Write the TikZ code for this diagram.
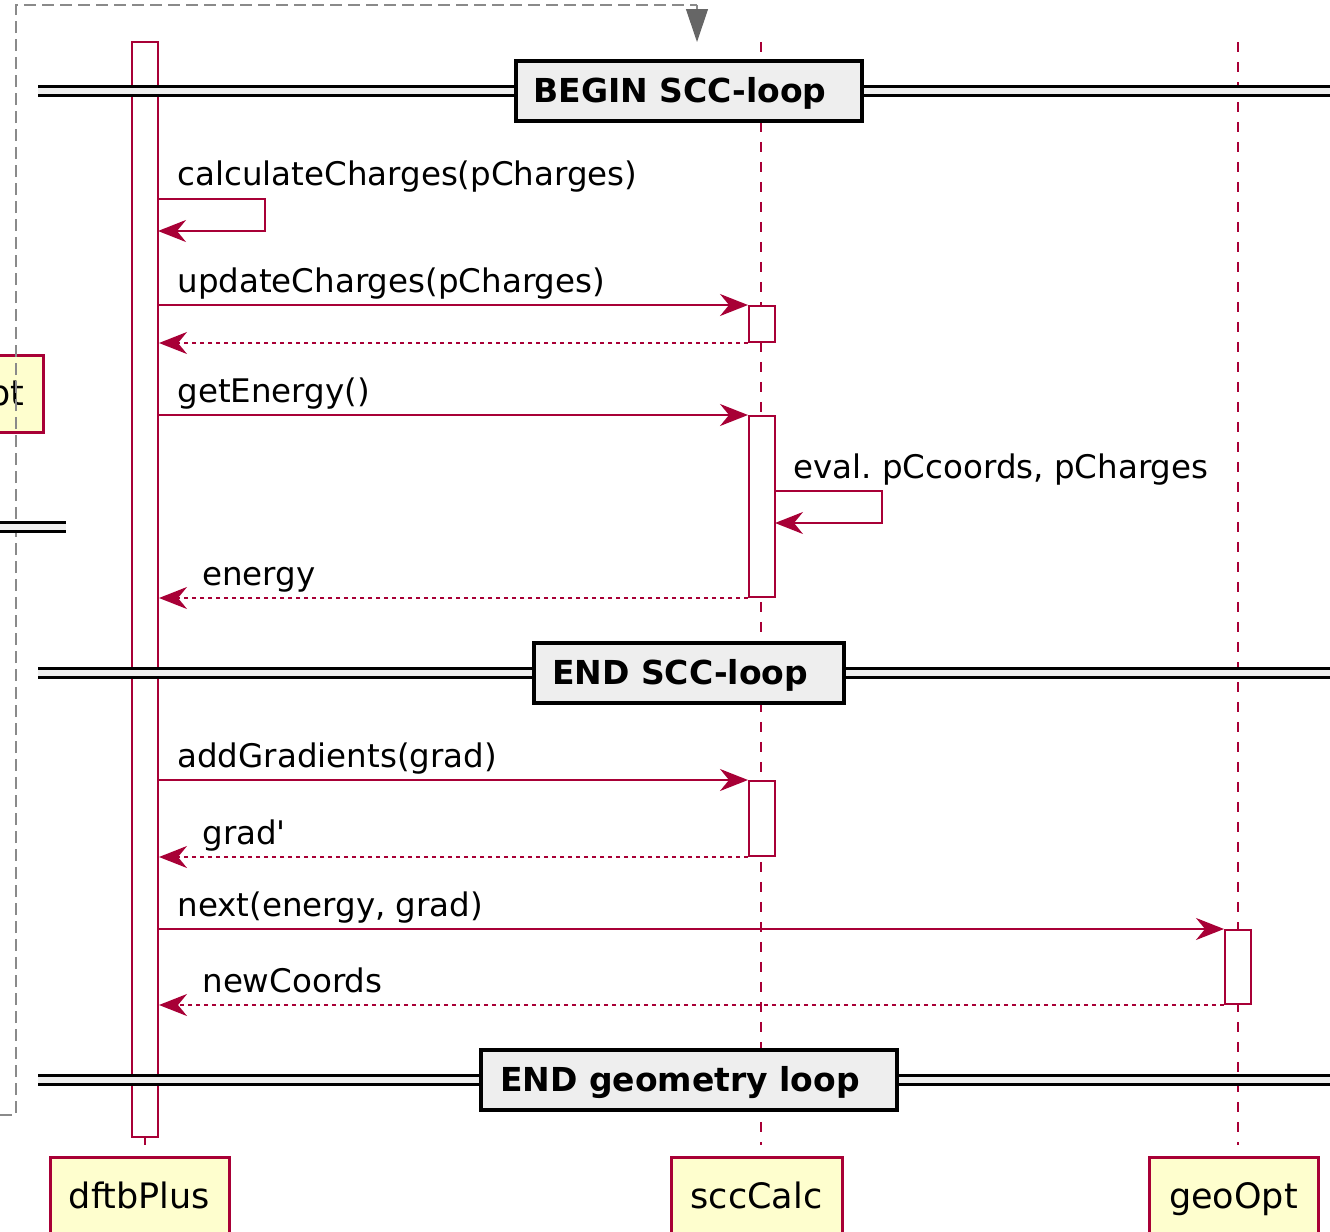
\documentclass[tikz,border=0pt]{standalone}
\usepackage{fontspec}
\setmainfont{DejaVu Sans}
\usetikzlibrary{arrows.meta}
\definecolor{umlred}{HTML}{A80036}
\definecolor{umlyellow}{HTML}{FEFECE}
\definecolor{divgray}{HTML}{EEEEEE}
\definecolor{framegray}{HTML}{8A8A8A}
\frenchspacing
\tikzset{
    lifeline/.style={umlred, line width=1pt, dash pattern=on 5pt off 5pt},
    actbar/.style={draw=umlred, fill=white, line width=1pt},
    call/.style={umlred, line width=1pt, -{Stealth[length=14pt, width=11pt, inset=4.5pt]}},
    reply/.style={call, dash pattern=on 2pt off 2pt},
    msglabel/.style={anchor=base west, inner sep=0pt, font=\fontsize{16.25}{19}\selectfont},
    partbox/.style={draw=umlred, fill=umlyellow, line width=1.5pt, inner sep=0pt, text height=15pt, text depth=3.5pt, font=\fontsize{17.5}{21}\selectfont},
    divbox/.style={draw=black, fill=divgray, line width=1.75pt, inner sep=0pt, minimum height=30pt, text height=13pt, text depth=2pt, font=\bfseries\fontsize{16.5}{20}\selectfont},
    divline/.style={draw=black, line width=1.1pt, fill=divgray},
    frame/.style={framegray, line width=0.6pt, dash pattern=on 6pt off 3pt}
}
\begin{document}
\begin{tikzpicture}[x=0.5pt, y=-0.5pt]
    \useasboundingbox (0,0) rectangle (1330,1232);
    \clip (0,0) rectangle (1330,1232);
    % lifelines
    \foreach \n/\x in {scc/761,geo/1238}{
        \coordinate (\n top) at (\x,42);
        \coordinate (\n bot) at (\x,1145);
        \draw[lifeline] (\n top) -- (\n bot);
    }
    \coordinate (dftbbot) at (145,1145);
    \node[actbar, minimum width=13pt, minimum height=547.5pt, inner sep=0pt] (dbar) at (145,589.5) {};
    \draw[umlred, line width=1pt] (dbar.south) -- (dftbbot);
    % participants
    \foreach \x/\w/\n/\l in {139.5/89.5/dftb/dftbPlus,756.5/85.5/scc/sccCalc,1233.5/84.5/geo/geoOpt}{
        \node[partbox, minimum width=\w pt, minimum height=39.5pt] (\n box) at (\x,1196.5) {\l};
    }
    \node[partbox, minimum width=60pt, minimum height=38.5pt, anchor=east] (outerbox) at (44.5,393.5) {};
    \node[anchor=base east, inner sep=0pt, font=\fontsize{17.5}{21}\selectfont] (outerlbl) at (25,405) {pt};
    % outer frame
    \coordinate (fa) at (0,1115);
    \coordinate (fb) at (16,1115);
    \coordinate (fc) at (16,5);
    \coordinate (fd) at (697,5);
    \coordinate (fe) at (697,42);
    \draw[frame] (fa) -- (fb) -- (fc) -- (fd);
    \draw[frame, -{Triangle[length=16.5pt, width=11pt, fill=black!60, color=black!60]}] (fd) -- (fe);
    % dividers
    \fill[divgray] (0,522.5) rectangle (66,531.5);
    \draw[divline] (0,522.5) -- (66,522.5) (0,531.5) -- (66,531.5);
    \foreach \y/\w/\n/\l in {91/173/div1/BEGIN SCC-loop,673/155/div2/END SCC-loop,1080/208/div3/END geometry loop}{
        \fill[divgray] (38,\y-4.5) rectangle (1330,\y+4.5);
        \draw[divline] (38,\y-4.5) -- (1330,\y-4.5) (38,\y+4.5) -- (1330,\y+4.5);
        \node[divbox, minimum width=\w pt] (\n) at (689,\y) {\l\hbox to 9pt{}};
    }
    % activations
    \foreach \x/\y/\h/\n in {762/324/18/act1,762/506.5/90.5/act2,762/818.5/37.5/act3,1238/967/37/act4}{
        \node[actbar, minimum width=13pt, minimum height=\h pt, inner sep=0pt] (\n) at (\x,\y) {};
    }
    % messages
    \foreach \a/\b/\s/\lx/\l in {{dbar.east|-act1.north}/act1.north west/call/177/updateCharges(pCharges),
        act1.south west/{dbar.east|-act1.south}/reply/202/,
        {dbar.east|-act2.north}/act2.north west/call/177/getEnergy(),
        act2.south west/{dbar.east|-act2.south}/reply/202/energy,
        {dbar.east|-act3.north}/act3.north west/call/177/addGradients(grad),
        act3.south west/{dbar.east|-act3.south}/reply/202/grad\textquotesingle,
        {dbar.east|-act4.north}/act4.north west/call/177/{next(energy, grad)},
        act4.south west/{dbar.east|-act4.south}/reply/202/newCoords}{
        \draw[\s] (\a) -- (\b) node[pos=0, inner sep=0pt] (m) {};
        \path (m) ++(0,-13) coordinate (lp);
        \node[msglabel] at (\lx,0 |- lp) {\l};
    }
    % self messages
    \coordinate (s1) at (158,199);
    \coordinate (s2) at (158,231);
    \draw[call] (s1) -- ++(107,0) |- (s2);
    \node[msglabel] (ls1) at (177,185) {calculateCharges(pCharges)};
    \coordinate (s3) at (775,491);
    \coordinate (s4) at (775,523);
    \draw[call] (s3) -- ++(107,0) |- (s4);
    \node[msglabel] (ls2) at (793,478) {eval. pCcoords, pCharges};
\end{tikzpicture}
\end{document}
